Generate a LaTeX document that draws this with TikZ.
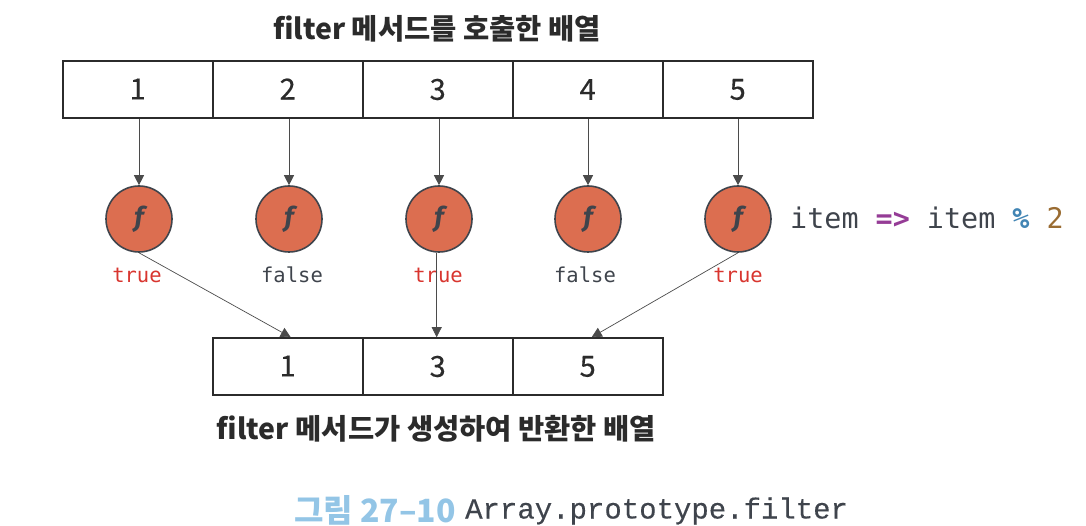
\documentclass[tikz,border=0pt]{standalone}
\usepackage{fontspec}
\setmainfont{Noto Sans CJK KR}
\setmonofont{DejaVu Sans Mono}
\newfontfamily\capmono{Liberation Mono}[FakeBold=0.3]
\newfontfamily\fnfont{Fira Sans}
\newfontfamily\digitfont{Noto Sans CJK KR}[FakeBold=0.4]
\usetikzlibrary{arrows.meta,calc}
\definecolor{ink}{HTML}{2B2B2B}
\definecolor{codegray}{HTML}{3F444C}
\definecolor{fillf}{HTML}{DC6E50}
\definecolor{truered}{HTML}{D8352F}
\definecolor{purp}{HTML}{953C96}
\definecolor{blu}{HTML}{4285B4}
\definecolor{brn}{HTML}{9A6C32}
\definecolor{capblue}{HTML}{93C5E6}
\tikzset{
  cell/.style={draw=ink,line width=1.6pt,minimum width=150pt,minimum height=57pt,inner sep=0pt,font=\digitfont\fontsize{29}{29}\selectfont,text=ink},
  fn/.style={circle,draw=codegray,line width=1.6pt,fill=fillf,minimum size=66pt,inner sep=0pt,font=\fnfont\fontsize{27}{27}\selectfont\bfseries\itshape,text=codegray},
  arr/.style={draw=ink!85,line width=0.7pt,-{Triangle[length=10pt,width=10pt]}},
  title/.style={font=\fontsize{28.5}{28.5}\selectfont\bfseries,text=ink,inner sep=0pt},
  res/.style={font=\ttfamily\fontsize{20.5}{20.5}\selectfont,inner sep=0pt},
}
\begin{document}
\begin{tikzpicture}[x=1pt,y=-1pt]
\useasboundingbox (0,0) rectangle (1086,526);
\node[title] (t1) at (437,29) {filter 메서드를 호출한 배열};
\foreach \i/\x/\d in {1/137.7/-1,2/287.7/-1,3/437.7/2,4/587.7/2,5/737.7/2}{
  \node[cell] (a\i) at (\x,89.5) {\raisebox{-\d pt}{\i}};
}
\foreach \i/\x in {1/139,2/289,3/439,4/588,5/738}{
  \node[fn] (f\i) at (\x,219) {f};
  \draw[arr] (f\i.north |- a\i.south) -- (f\i.north);
}
\node[res,text=truered] (r1) at (137,275) {true};
\node[res,text=codegray] (r2) at (292,275) {false};
\node[res,text=truered] (r3) at (438,275) {true};
\node[res,text=codegray] (r4) at (585,275) {false};
\node[res,text=truered] (r5) at (738,275) {true};
\node[cell] (b1) at (287.7,366.5) {\raisebox{1pt}{1}};
\node[cell] (b3) at (437.7,366.5) {\raisebox{-2pt}{3}};
\node[cell] (b5) at (587.7,366.5) {\raisebox{-2pt}{5}};
\draw[arr] (f1.south) -- ([xshift=3pt]b1.north);
\draw[arr] ([xshift=-1pt]b3.north |- f3.south) -- ([xshift=-1pt]b3.north);
\draw[arr] (f5.south) -- ([xshift=4pt]b5.north);
\node[title] (t2) at (436.5,429) {filter 메서드가 생성하여 반환한 배열};
\node[anchor=west,inner sep=0pt,font=\ttfamily\fontsize{28.4}{28.4}\selectfont,text=codegray] (code) at (790,218)
  {item {\color{purp}\bfseries =>} item {\color{blu}\bfseries\%} {\color{brn}2}};
\node[anchor=west,inner sep=0pt,font=\fontsize{32}{32}\selectfont\bfseries,text=capblue] (cap) at (294,510.5) {그림 27–10};
\node[anchor=west,inner sep=0pt,font=\capmono\fontsize{29}{29}\selectfont,text=codegray] (capt) at (465,511) {Array.prototype.filter};
\end{tikzpicture}
\end{document}
